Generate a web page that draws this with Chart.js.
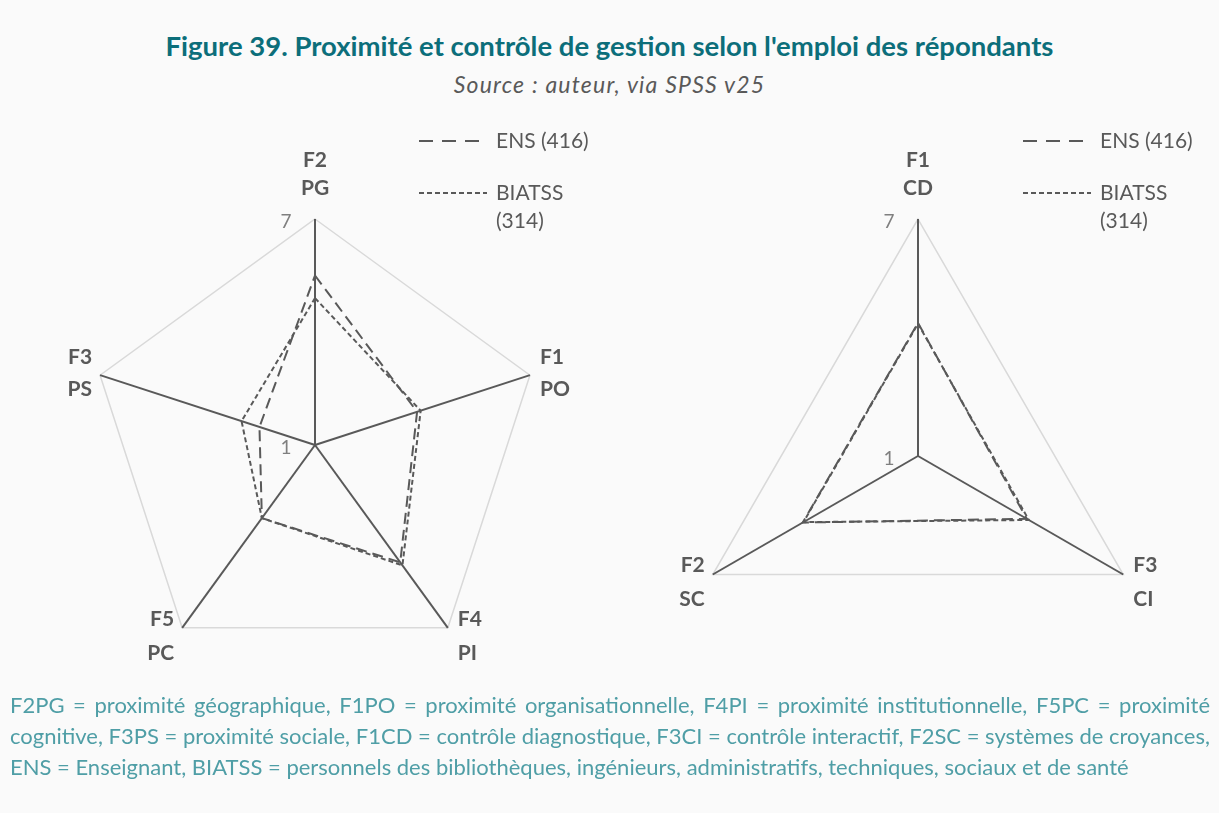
<!DOCTYPE html>
<html>
<head>
<meta charset="utf-8">
<script src="https://cdn.jsdelivr.net/npm/chart.js@4"></script>
<style>
  html, body { margin: 0; padding: 0; }
  body { width: 1219px; height: 813px; background: #fafafa; position: relative; overflow: hidden; font-family: 'Lato', sans-serif; }
  #title { position: absolute; top: 29px; left: 0; width: 1219px; text-align: center; color: #0c6e7a; font-weight: bold; font-size: 27.5px; }
  #subtitle { position: absolute; top: 70px; left: 0; width: 1219px; text-align: center; color: #595959; font-style: italic; font-size: 23px; letter-spacing: 1.2px; }
  .cv { position: absolute; top: 110px; }
  .legend { position: absolute; color: #595959; font-size: 21px; line-height: 28px; }
  .legend .row { position: relative; padding-left: 77px; }
  .legend svg { position: absolute; left: 0; top: 13px; }
  #note { position: absolute; left: 10px; top: 689px; width: 1200px; color: #4f9ea6; font-size: 22px; line-height: 31px; text-align: justify; }
</style>
</head>
<body>
<div id="title">Figure 39. Proximité et contrôle de gestion selon l'emploi des répondants</div>
<div id="subtitle">Source : auteur, via SPSS v25</div>

<canvas id="left" class="cv" style="left:0px" width="610" height="590"></canvas>
<canvas id="right" class="cv" style="left:610px" width="609" height="590"></canvas>

<div class="legend" style="left:419px; top:126px"></div>
<div class="legend" style="left:1023px; top:126px"></div>

<div id="note">F2PG = proximité géographique, F1PO = proximité organisationnelle, F4PI = proximité institutionnelle, F5PC = proximité cognitive, F3PS = proximité sociale, F1CD = contrôle diagnostique, F3CI = contrôle interactif, F2SC = systèmes de croyances, ENS = Enseignant, BIATSS = personnels des bibliothèques, ingénieurs, administratifs, techniques, sociaux et de santé</div>

<script>
// proximity factors (left radar), clockwise from the top
const proxLabels = [['F2', 'PG'], ['F1', 'PO'], ['F4', 'PI'], ['F5', 'PC'], ['F3', 'PS']];
const ensProx = [5.5, 3.85, 4.85, 3.4, 2.55];
const biatssProx = [4.9, 3.95, 4.95, 3.4, 3.05];

// management control factors (right radar)
const ctrlLabels = [['F1', 'CD'], ['F3', 'CI'], ['F2', 'SC']];
const ensCtrl = [4.37, 4.18, 4.37];
const biatssCtrl = [4.35, 4.24, 4.35];

const seriesNames = ['ENS (416)', 'BIATSS (314)'];
const scaleTicks = [1, 7];

const INK = '#595959';
const ENS_DASH = [11, 6];
const BIATSS_DASH = [5, 3];

// tick labels sit left of the vertical axis, like the Excel original
const sideTicks = {
  id: 'sideTicks',
  afterDraw(chart) {
    const s = chart.scales.r;
    const ctx = chart.ctx;
    ctx.save();
    ctx.fillStyle = '#7f7f7f';
    ctx.font = "19px 'Lato', sans-serif";
    ctx.textAlign = 'center';
    ctx.textBaseline = 'middle';
    scaleTicks.forEach(v => {
      const p = s.getPointPositionForValue(0, v);
      ctx.fillText(String(v), p.x - 29, p.y + 3);
    });
    ctx.restore();
  }
};

// axis names placed Excel-style around each vertex
const axisNames = {
  id: 'axisNames',
  afterDraw(chart) {
    const s = chart.scales.r;
    const ctx = chart.ctx;
    ctx.save();
    ctx.fillStyle = INK;
    ctx.font = "bold 21px 'Lato', sans-serif";
    ctx.textBaseline = 'middle';
    chart.data.labels.forEach((lines, i) => {
      const p = s.getPointPosition(i, s.drawingArea);
      const dx = p.x - s.xCenter;
      const dy = p.y - s.yCenter;
      let x = p.x, ys;
      if (Math.abs(dx) < 2) {
        ctx.textAlign = 'center';
        ys = [p.y - 59, p.y - 31];
      } else {
        ctx.textAlign = dx > 0 ? 'left' : 'right';
        x += dx > 0 ? 10 : -8;
        ys = dy > 0 ? [p.y - 9, p.y + 25] : [p.y - 18, p.y + 14];
      }
      lines.forEach((t, k) => ctx.fillText(t, x, ys[k]));
    });
    ctx.restore();
  }
};

function makeRadar(canvasId, labels, ens, biatss, pad) {
  const ctx = document.getElementById(canvasId).getContext('2d');
  return new Chart(ctx, {
    type: 'radar',
    data: {
      labels,
      datasets: [
        {
          label: seriesNames[0],
          data: ens,
          borderColor: INK,
          borderWidth: 2,
          borderDash: ENS_DASH,
          backgroundColor: 'transparent',
          fill: false,
          pointRadius: 0,
          pointHoverRadius: 0,
        },
        {
          label: seriesNames[1],
          data: biatss,
          borderColor: INK,
          borderWidth: 2,
          borderDash: BIATSS_DASH,
          backgroundColor: 'transparent',
          fill: false,
          pointRadius: 0,
          pointHoverRadius: 0,
        },
      ],
    },
    options: {
      responsive: false,
      animation: false,
      layout: { padding: pad },
      plugins: {
        legend: { display: false },
        tooltip: { enabled: false },
      },
      scales: {
        r: {
          min: 1,
          max: 7,
          ticks: { stepSize: 6, display: false },
          grid: { color: '#d9d9d9', lineWidth: 1.5 },
          angleLines: { color: INK, lineWidth: 2 },
          pointLabels: { display: false },
        },
      },
    },
    plugins: [sideTicks, axisNames],
  });
}

makeRadar('left', proxLabels, ensProx, biatssProx, { left: 89, right: 69, top: 109, bottom: 29 });
makeRadar('right', ctrlLabels, ensCtrl, biatssCtrl, { left: 71, right: 64, top: 109, bottom: 7 });

// html legends with dash samples matching the datasets
document.querySelectorAll('.legend').forEach(el => {
  const dashes = [ENS_DASH.map(d => d + 3), BIATSS_DASH];
  el.innerHTML = seriesNames.map((name, i) => {
    const parts = name.split(' ');
    const text = i === 0 ? name : parts[0] + '<br>' + parts[1];
    return '<div class="row" style="margin-bottom:' + (i === 0 ? 24 : 0) + 'px">' +
      '<svg width="68" height="4"><line x1="0" y1="2" x2="68" y2="2" stroke="' + INK + '" stroke-width="2" stroke-dasharray="' + dashes[i].join(',') + '"/></svg>' +
      text + '</div>';
  }).join('');
});
</script>
</body>
</html>
